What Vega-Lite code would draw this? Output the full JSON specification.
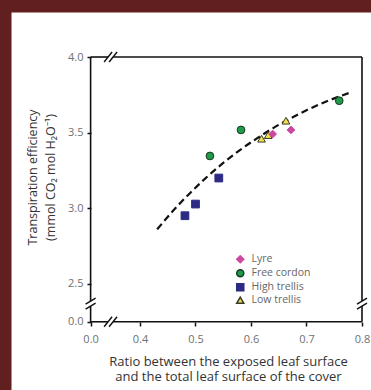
{
  "$schema": "https://vega.github.io/schema/vega-lite/v6.json",
  "width": 371,
  "height": 390,
  "autosize": {"type": "none"},
  "padding": 0,
  "background": "white",
  "config": {
    "view": {"fill": "white", "stroke": null},
    "font": "Open Sans"
  },
  "datasets": {
    "points": [
      {"series": "Free cordon", "x": 0.526, "y": 3.346},
      {"series": "Free cordon", "x": 0.582, "y": 3.518},
      {"series": "Free cordon", "x": 0.759, "y": 3.711},
      {"series": "High trellis", "x": 0.542, "y": 3.2},
      {"series": "High trellis", "x": 0.5, "y": 3.028},
      {"series": "High trellis", "x": 0.481, "y": 2.951},
      {"series": "Low trellis", "x": 0.619, "y": 3.46},
      {"series": "Low trellis", "x": 0.631, "y": 3.484},
      {"series": "Low trellis", "x": 0.663, "y": 3.579},
      {"series": "Lyre", "x": 0.639, "y": 3.491},
      {"series": "Lyre", "x": 0.672, "y": 3.518}
    ],
    "curve": [
      {"x": 0.431, "y": 2.861},
      {"x": 0.46, "y": 2.985},
      {"x": 0.49, "y": 3.1},
      {"x": 0.52, "y": 3.205},
      {"x": 0.55, "y": 3.3},
      {"x": 0.58, "y": 3.385},
      {"x": 0.61, "y": 3.46},
      {"x": 0.64, "y": 3.53},
      {"x": 0.67, "y": 3.592},
      {"x": 0.7, "y": 3.648},
      {"x": 0.74, "y": 3.712},
      {"x": 0.778, "y": 3.764}
    ],
    "frame": [
      {"x": 0.311, "y": 2.25, "x2": 0.3425, "y2": 2.25},
      {"x": 0.3515, "y": 2.25, "x2": 0.8, "y2": 2.25},
      {"x": 0.311, "y": 4.0, "x2": 0.3425, "y2": 4.0},
      {"x": 0.3515, "y": 4.0, "x2": 0.8, "y2": 4.0},
      {"x": 0.311, "y": 2.25, "x2": 0.311, "y2": 2.3535},
      {"x": 0.311, "y": 2.3865, "x2": 0.311, "y2": 4.0},
      {"x": 0.8, "y": 2.25, "x2": 0.8, "y2": 2.3535},
      {"x": 0.8, "y": 2.3865, "x2": 0.8, "y2": 4.0}
    ],
    "slashes": [
      {"x": 0.3353, "y": 2.217, "x2": 0.3497, "y2": 2.283},
      {"x": 0.3443, "y": 2.217, "x2": 0.3587, "y2": 2.283},
      {"x": 0.3353, "y": 3.967, "x2": 0.3497, "y2": 4.033},
      {"x": 0.3443, "y": 3.967, "x2": 0.3587, "y2": 4.033},
      {"x": 0.302, "y": 2.3335, "x2": 0.32, "y2": 2.3735},
      {"x": 0.302, "y": 2.3665, "x2": 0.32, "y2": 2.4065},
      {"x": 0.791, "y": 2.3335, "x2": 0.809, "y2": 2.3735},
      {"x": 0.791, "y": 2.3665, "x2": 0.809, "y2": 2.4065}
    ]
  },
  "resolve": {"axis": {"x": "independent", "y": "independent"}},
  "layer": [
    {
      "data": {"name": "frame"},
      "mark": {"type": "rule", "color": "#111111", "strokeWidth": 1.6},
      "encoding": {
        "x": {
          "field": "x",
          "type": "quantitative",
          "scale": {"domain": [0.14775, 0.81622], "nice": false, "zero": false},
          "axis": {
            "orient": "bottom",
            "offset": -68,
            "domain": false,
            "grid": false,
            "values": [0.311, 0.4, 0.5, 0.6, 0.7, 0.8],
            "labelExpr": "datum.value < 0.35 ? '0.0' : format(datum.value, '.1f')",
            "labelOverlap": false,
            "labelBound": false,
            "labelFlush": false,
            "tickSize": 4,
            "tickWidth": 1.5,
            "tickColor": "#111111",
            "labelColor": "#707070",
            "labelFontSize": 11,
            "labelPadding": 7,
            "title": ["Ratio between the exposed leaf surface", "and the total leaf surface of the cover"],
            "titleFontSize": 13,
            "titleFontWeight": "normal",
            "titleColor": "#333333",
            "titleLineHeight": 15.5,
            "titlePadding": 11,
            "titleX": 228
          }
        },
        "y": {
          "field": "y",
          "type": "quantitative",
          "scale": {"domain": [1.79908, 4.37674], "nice": false, "zero": false},
          "axis": {
            "orient": "left",
            "offset": -91,
            "domain": false,
            "grid": false,
            "values": [2.25, 2.5, 3.0, 3.5, 4.0],
            "labelExpr": "datum.value < 2.3 ? '0.0' : format(datum.value, '.1f')",
            "labelOverlap": false,
            "labelBound": false,
            "labelFlush": false,
            "tickSize": 4,
            "tickWidth": 1.5,
            "tickColor": "#111111",
            "labelColor": "#707070",
            "labelFontSize": 11,
            "labelPadding": 4,
            "title": ["Transpiration efficiency", "(mmol CO₂ mol H₂O⁻¹)"],
            "titleFontSize": 12.5,
            "titleFontWeight": "normal",
            "titleColor": "#333333",
            "titleLineHeight": 18,
            "titlePadding": 10,
            "titleY": 177
          }
        },
        "x2": {"field": "x2"},
        "y2": {"field": "y2"}
      }
    },
    {
      "data": {"name": "slashes"},
      "mark": {"type": "rule", "color": "#111111", "strokeWidth": 1.4},
      "encoding": {
        "x": {
          "field": "x",
          "type": "quantitative",
          "scale": {"domain": [0.14775, 0.81622], "nice": false, "zero": false},
          "axis": {
            "orient": "top",
            "offset": 0,
            "domain": true,
            "domainColor": "#621f1f",
            "domainWidth": 24,
            "domainCap": "square",
            "ticks": false,
            "labels": false,
            "grid": false,
            "title": null
          }
        },
        "y": {
          "field": "y",
          "type": "quantitative",
          "scale": {"domain": [1.79908, 4.37674], "nice": false, "zero": false},
          "axis": {
            "orient": "left",
            "offset": 0,
            "domain": true,
            "domainColor": "#621f1f",
            "domainWidth": 22,
            "domainCap": "square",
            "ticks": false,
            "labels": false,
            "grid": false,
            "title": null
          }
        },
        "x2": {"field": "x2"},
        "y2": {"field": "y2"}
      }
    },
    {
      "data": {"name": "curve"},
      "mark": {"type": "line", "color": "#111111", "strokeWidth": 2.2, "strokeDash": [7, 4], "interpolate": "monotone"},
      "encoding": {
        "x": {"field": "x", "type": "quantitative", "axis": null},
        "y": {"field": "y", "type": "quantitative", "axis": null}
      }
    },
    {
      "data": {"name": "points"},
      "mark": {"type": "point", "filled": true, "size": 60, "strokeWidth": 1, "opacity": 1},
      "encoding": {
        "x": {"field": "x", "type": "quantitative", "axis": null},
        "y": {"field": "y", "type": "quantitative", "axis": null},
        "color": {
          "field": "series",
          "type": "nominal",
          "scale": {"domain": ["Lyre", "Free cordon", "High trellis", "Low trellis"], "range": ["#cc4a9e", "#1f9a4a", "#2d2b84", "#f2e14a"]},
          "legend": {
            "title": null,
            "orient": "none",
            "legendX": 235,
            "legendY": 254,
            "padding": 0,
            "labelFontSize": 10.5,
            "labelColor": "#666666",
            "symbolSize": 50,
            "rowPadding": 0,
            "labelOffset": 6
          }
        },
        "shape": {
          "field": "series",
          "type": "nominal",
          "scale": {"domain": ["Lyre", "Free cordon", "High trellis", "Low trellis"], "range": ["diamond", "circle", "square", "triangle-up"]}
        },
        "stroke": {
          "field": "series",
          "type": "nominal",
          "scale": {"domain": ["Lyre", "Free cordon", "High trellis", "Low trellis"], "range": ["#cc4a9e", "#1b3a22", "#2d2b84", "#3a3a2a"]}
        }
      }
    }
  ]
}
